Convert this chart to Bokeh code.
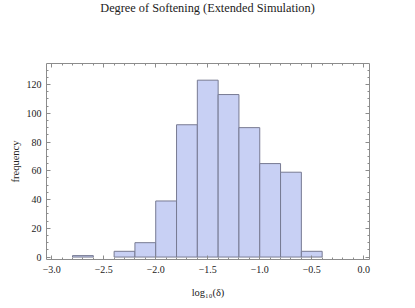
from bokeh.plotting import figure
from bokeh.layouts import column
from bokeh.models import Range1d, LinearAxis, FixedTicker, Div
from bokeh.embed import file_html
from bokeh.resources import INLINE

# Histogram data (bin width 0.2)
bin_left = [-2.8, -2.4, -2.2, -2.0, -1.8, -1.6, -1.4, -1.2, -1.0, -0.8, -0.6]
bin_right = [-2.6, -2.2, -2.0, -1.8, -1.6, -1.4, -1.2, -1.0, -0.8, -0.6, -0.4]
counts = [1, 4, 10, 39, 92, 123, 113, 90, 65, 59, 4]

x_ticks = [-3.0, -2.5, -2.0, -1.5, -1.0, -0.5, 0.0]
x_tick_labels = ["\u22123.0", "\u22122.5", "\u22122.0", "\u22121.5", "\u22121.0", "\u22120.5", "0.0"]
x_minor = [round(-3.0 + 0.1 * i, 1) for i in range(31)]
y_ticks = [0, 20, 40, 60, 80, 100, 120]
y_minor = list(range(0, 136, 5))
title_text = "Degree of Softening (Extended Simulation)"

FONT = "Liberation Serif"
AX = "#8c8c8c"

p = figure(width=415, height=288, output_backend="svg", toolbar_location=None,
           x_range=Range1d(-3.05, 0.055), y_range=Range1d(-1.7, 134.6),
           x_axis_location=None, y_axis_location=None,
           min_border_left=46, min_border_right=46, min_border_top=43, min_border_bottom=49,
           background_fill_color="white", border_fill_color="white")
p.grid.visible = False
p.outline_line_color = None

p.quad(left=bin_left, right=bin_right, bottom=0, top=counts,
       fill_color="#c8d0f4", line_color="#777a92", line_width=1)

def style(ax, ticks, minor, labels):
    ax.ticker = FixedTicker(ticks=ticks, minor_ticks=minor)
    ax.axis_line_color = AX
    ax.major_tick_line_color = AX
    ax.minor_tick_line_color = AX
    ax.major_tick_in = 4
    ax.major_tick_out = 0
    ax.minor_tick_in = 2
    ax.minor_tick_out = 0
    ax.major_label_text_font = FONT
    ax.major_label_text_font_size = "10px"
    ax.major_label_text_color = "#222222"
    ax.axis_label_text_font = FONT
    ax.axis_label_text_font_style = "normal"
    ax.axis_label_text_font_size = "10.5px"
    ax.axis_label_text_color = "#222222"
    ax.major_label_overrides = dict(zip(ticks, labels))

xb = LinearAxis(axis_label="log\u2081\u2080(\u03b4)")
style(xb, x_ticks, x_minor, x_tick_labels)
xb.major_label_standoff = 6
xb.axis_label_standoff = 11
p.add_layout(xb, "below")

xt = LinearAxis()
style(xt, x_ticks, x_minor, [""] * len(x_ticks))
xt.major_label_standoff = 0
p.add_layout(xt, "above")

yl = LinearAxis(axis_label="frequency")
style(yl, y_ticks, y_minor, [str(v) for v in y_ticks])
yl.major_label_standoff = 5
yl.axis_label_standoff = 3
p.add_layout(yl, "left")

yr = LinearAxis()
style(yr, y_ticks, y_minor, [""] * len(y_ticks))
yr.major_label_standoff = 0
p.add_layout(yr, "right")

title = Div(text=title_text, width=415, height=20,
            styles={"font-family": FONT, "font-size": "12.3px", "line-height": "17px",
                    "text-align": "center", "color": "#222222", "width": "415px",
                    "margin": "0", "padding": "0"})

layout = column(title, p, spacing=0)

open("out.html", "w").write(file_html(layout, INLINE))
